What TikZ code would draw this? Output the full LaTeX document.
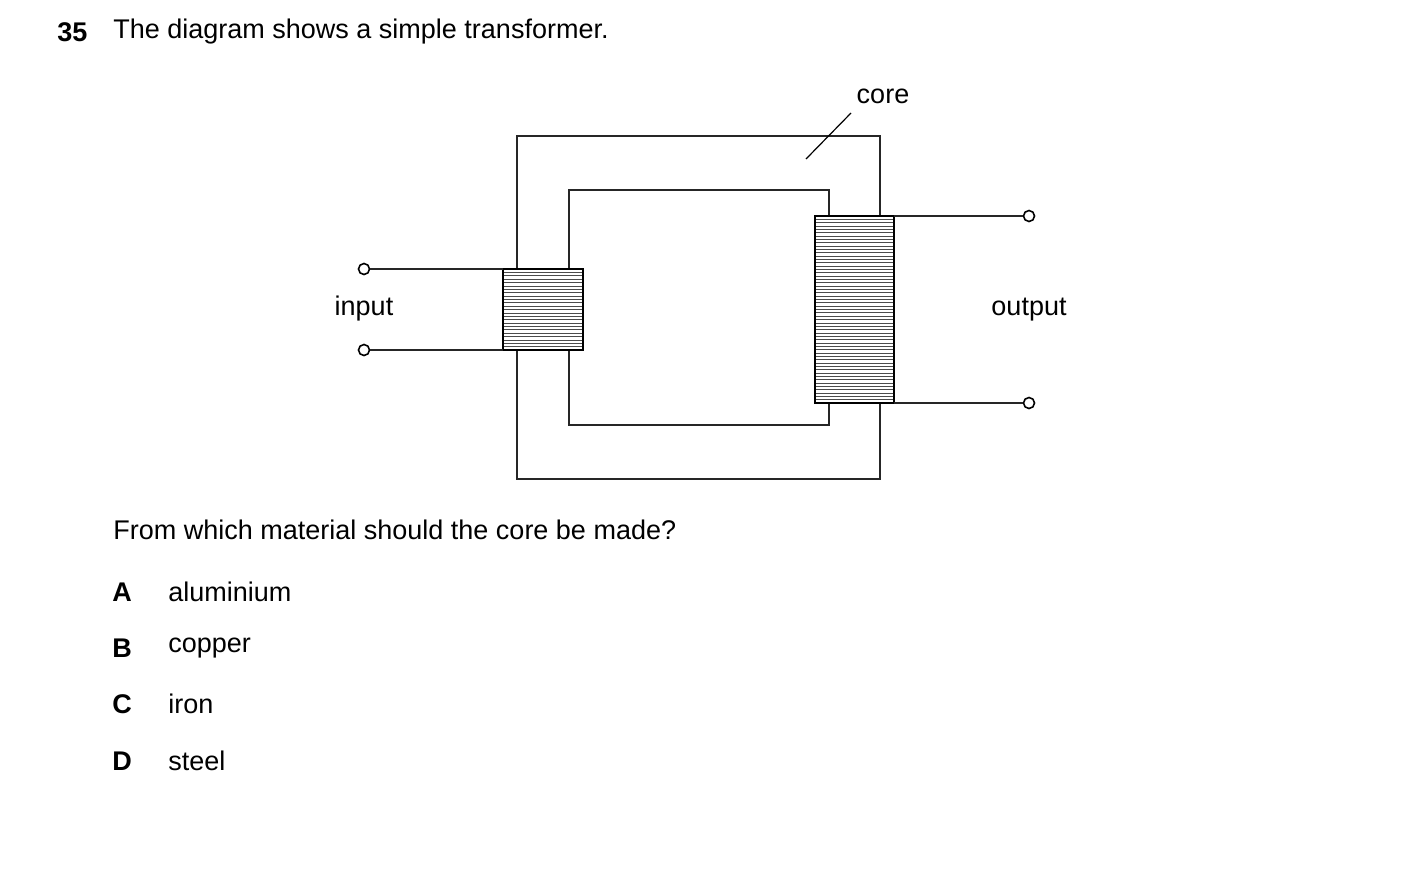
\documentclass[tikz,border=0pt]{standalone}
\usepackage{fontspec}
\setmainfont{Liberation Sans}
\begin{document}
\begin{tikzpicture}[x=0.5pt,y=-0.5pt,
  wire/.style={line width=1.1pt,black!85},
  term/.style={circle,draw,line width=0.8pt,inner sep=0pt,minimum size=5.5pt,fill=white},
  txt/.style={font=\fontsize{13.5pt}{16pt}\selectfont,inner sep=0pt},
  coil/.style={draw,line width=1.1pt,fill=white}]
\useasboundingbox (0,0) rectangle (1403,869);
\node[txt,font=\fontsize{13.5pt}{16pt}\selectfont\bfseries,anchor=west] (num) at (57,32) {35};
\node[txt,anchor=west] (title) at (113,32) {The diagram shows a simple transformer.};
% core
\draw[wire] (517,136) rectangle (880,479);
\draw[wire] (569,190) rectangle (829,425);
% coils
\draw[coil] (503,269) rectangle (583,350);
\foreach \i in {1,...,23} \draw[line width=0.35pt,black!70] (504,{269+\i*81/24}) -- (582,{269+\i*81/24});
\draw[coil] (815,216) rectangle (894,403);
\foreach \i in {1,...,55} \draw[line width=0.35pt,black!70] (816,{216+\i*187/56}) -- (893,{216+\i*187/56});
\coordinate (c1) at (503,269); \coordinate (c2) at (503,350);
\coordinate (c3) at (894,216); \coordinate (c4) at (894,403);
\node[term] (i1) at (364,269) {};
\node[term] (i2) at (364,350) {};
\node[term] (o1) at (1029,216) {};
\node[term] (o2) at (1029,403) {};
\draw[wire] (i1) -- (c1); \draw[wire] (i2) -- (c2);
\draw[wire] (c3) -- (o1); \draw[wire] (c4) -- (o2);
\node[txt] (inl) at (364,309) {input};
\node[txt] (outl) at (1029,310) {output};
\node[txt] (corel) at (883,96) {core};
\coordinate (cp1) at (851,113); \coordinate (cp2) at (806,159);
\draw[line width=0.6pt] (cp1) -- (cp2);
\node[txt,anchor=west] (q) at (113,530) {From which material should the core be made?};
\foreach \y/\l/\t in {592/A/aluminium,648/B/copper,704/C/iron,761/D/steel}{
  \node[txt,font=\fontsize{13.5pt}{16pt}\selectfont\bfseries] (L\l) at (122,\y) {\l};
  \node[txt,anchor=west] (T\l) at (168,\y) {\t};
}
\end{tikzpicture}
\end{document}
